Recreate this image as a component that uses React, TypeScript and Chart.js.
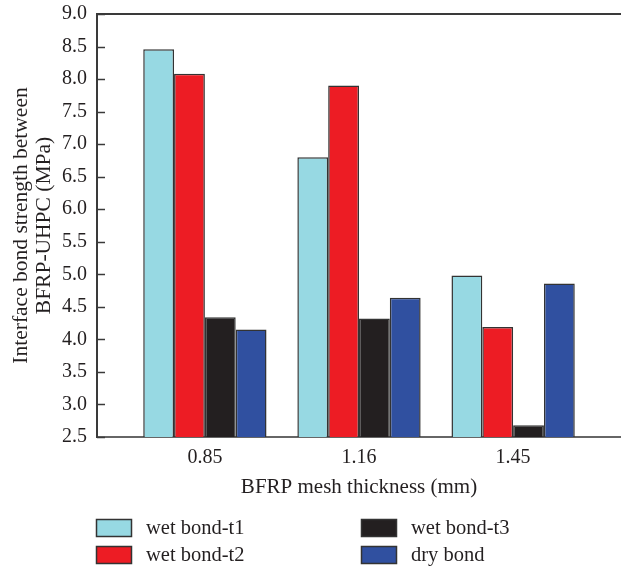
import React, { useEffect, useRef } from "react";
import { Chart, registerables } from "chart.js";

Chart.register(...registerables);

const thicknessLabels = ["0.85", "1.16", "1.45"];
const seriesNames = ["wet bond-t1", "wet bond-t2", "wet bond-t3", "dry bond"];
const wetBondT1 = [8.46, 6.8, 4.98];
const wetBondT2 = [8.08, 7.9, 4.19];
const wetBondT3 = [4.34, 4.32, 2.68];
const dryBond = [4.15, 4.64, 4.86];
const seriesColors = ["#97D9E3", "#ED1C24", "#231F20", "#3050A0"];
const yMin = 2.5;
const yMax = 9.0;
const yStep = 0.5;

const FONT = '"Liberation Serif", "Times New Roman", serif';
const TEXT = "#231F20";

const App: React.FC = () => {
  const ref = useRef<HTMLCanvasElement | null>(null);

  useEffect(() => {
    if (!ref.current) return;
    const allSeries = [wetBondT1, wetBondT2, wetBondT3, dryBond];

    const framePlugin = {
      id: "frame",
      afterDatasetsDraw(chart: any) {
        const { ctx, chartArea } = chart;
        const y = chart.scales.y;
        ctx.save();
        ctx.strokeStyle = "#3a3a3a";
        ctx.lineWidth = 2;
        ctx.beginPath();
        ctx.moveTo(chartArea.left, chartArea.top);
        ctx.lineTo(chartArea.right, chartArea.top);
        ctx.stroke();
        ctx.lineWidth = 1.5;
        y.ticks.forEach((t: any) => {
          const py = Math.round(y.getPixelForValue(t.value)) + 0.5;
          ctx.beginPath();
          ctx.moveTo(chartArea.left, py);
          ctx.lineTo(chartArea.left + 8, py);
          ctx.stroke();
        });
        ctx.restore();
      },
      afterDraw(chart: any) {
        const { ctx } = chart;
        ctx.save();
        ctx.font = `20.5px ${FONT}`;
        ctx.textBaseline = "middle";
        ctx.textAlign = "left";
        const colX = [96, 361];
        const rowY = [519, 546];
        seriesNames.forEach((name, i) => {
          const cx = colX[Math.floor(i / 2)];
          const ry = rowY[i % 2];
          ctx.fillStyle = seriesColors[i];
          ctx.fillRect(cx, ry, 36, 18);
          ctx.strokeStyle = "#333";
          ctx.lineWidth = 1.5;
          ctx.strokeRect(cx + 0.5, ry + 0.5, 35, 17);
          ctx.fillStyle = TEXT;
          ctx.fillText(name, cx + 50, ry + 10);
        });
        ctx.restore();
      },
    };

    const chart = new Chart(ref.current, {
      type: "bar",
      data: {
        datasets: seriesNames.map((name, i) => ({
          label: name,
          data: allSeries[i].map((v, j) => ({ x: j, y: v })),
          backgroundColor: seriesColors[i],
          borderColor: "#333333",
          borderWidth: 1.5,
          categoryPercentage: 0.8,
          barPercentage: 1.0,
        })),
      },
      options: {
        responsive: false,
        animation: false,
        layout: { padding: { top: 14, bottom: 69, left: 0, right: 0 } },
        plugins: {
          legend: { display: false },
          tooltip: { enabled: false },
        },
        scales: {
          x: {
            type: "linear",
            min: -0.7,
            max: 2.7,
            offset: false,
            afterBuildTicks: (scale: any) => {
              scale.ticks = thicknessLabels.map((_, i) => ({ value: i }));
            },
            afterFit: (scale: any) => {
              scale.height = 63;
              scale.paddingLeft = 0;
              scale.paddingRight = 0;
            },
            grid: { display: false, drawTicks: false, offset: false },
            border: { display: true, color: "#666666", width: 2 },
            ticks: {
              padding: 9,
              color: TEXT,
              font: { family: FONT, size: 20 },
              callback: (v: any) => thicknessLabels[v] ?? "",
            },
            title: {
              display: true,
              text: "BFRP mesh thickness (mm)",
              color: TEXT,
              font: { family: FONT, size: 21 },
              padding: { top: 0, bottom: 0 },
            },
          },
          y: {
            min: yMin,
            max: yMax,
            afterFit: (scale: any) => {
              scale.width = 97;
              scale.paddingTop = 0;
              scale.paddingBottom = 0;
            },
            grid: { display: false, drawTicks: false },
            border: { display: true, color: "#3a3a3a", width: 2 },
            ticks: {
              stepSize: yStep,
              padding: 10,
              color: TEXT,
              font: { family: FONT, size: 20 },
              callback: (v: any) => Number(v).toFixed(1),
            },
            title: {
              display: true,
              text: ["Interface bond strength between", "BFRP-UHPC (MPa)"],
              color: TEXT,
              font: { family: FONT, size: 21.5, lineHeight: 1.05 },
              padding: { top: 10, bottom: 0 },
            },
          },
        },
      },
      plugins: [framePlugin],
    });
    return () => chart.destroy();
  }, []);

  return (
    <div style={{ position: "absolute", left: 0, top: 0, width: 621, height: 569, background: "#fff" }}>
      <canvas ref={ref} width={621} height={569} style={{ display: "block" }} />
    </div>
  );
};

export default App;
